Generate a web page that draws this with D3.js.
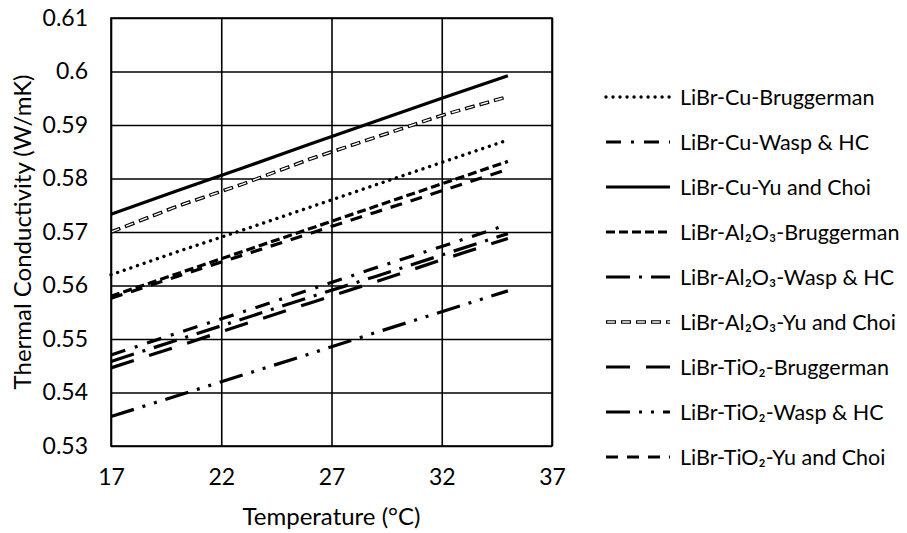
<!DOCTYPE html>
<html><head><meta charset="utf-8">
<script src="https://cdn.jsdelivr.net/npm/d3@7"></script>
<style>
html,body{margin:0;padding:0;background:#fff;}
svg text{font-family:Lato,"Open Sans",sans-serif;fill:#000;}
</style></head>
<body><svg id="c" width="907" height="533"></svg>
<script>
const temps = [17, 20, 23, 26, 29, 32, 35];
const cuBrug   = [0.5620, 0.5663, 0.5704, 0.5746, 0.5788, 0.5830, 0.5872];
const cuWasp   = [0.5470, 0.5511, 0.5551, 0.5592, 0.5633, 0.5673, 0.5714];
const cuYu     = [0.5733, 0.5777, 0.5820, 0.5864, 0.5907, 0.5950, 0.5992];
const alBrug   = [0.5580, 0.5622, 0.5664, 0.5706, 0.5748, 0.5790, 0.5832];
const alWasp   = [0.5458, 0.5498, 0.5538, 0.5578, 0.5617, 0.5657, 0.5697];
const alYu     = [0.5700, 0.5748, 0.5790, 0.5836, 0.5877, 0.5918, 0.5953];
const tiBrug   = [0.5446, 0.5486, 0.5527, 0.5567, 0.5607, 0.5648, 0.5688];
const tiWasp   = [0.5355, 0.5394, 0.5433, 0.5472, 0.5512, 0.5551, 0.5590];
const tiYu     = [0.5576, 0.5617, 0.5657, 0.5697, 0.5737, 0.5777, 0.5817];
const seriesNames = ["LiBr-Cu-Bruggerman","LiBr-Cu-Wasp & HC","LiBr-Cu-Yu and Choi",
  "LiBr-Al₂O₃-Bruggerman","LiBr-Al₂O₃-Wasp & HC","LiBr-Al₂O₃-Yu and Choi",
  "LiBr-TiO₂-Bruggerman","LiBr-TiO₂-Wasp & HC","LiBr-TiO₂-Yu and Choi"];
const seriesValues = [cuBrug, cuWasp, cuYu, alBrug, alWasp, alYu, tiBrug, tiWasp, tiYu];
const xTicks = [17, 22, 27, 32, 37];
const yTicks = [0.53, 0.54, 0.55, 0.56, 0.57, 0.58, 0.59, 0.6, 0.61];

const styles = [
  {dash:"0.01 7", cap:"round"},
  {dash:"15 10 3 10"},
  {dash:null},
  {dash:"9 4"},
  {dash:"24 9 3 9"},
  {hollow:true},
  {dash:"24 16"},
  {dash:"24 9 3 9 3 9"},
  {dash:"12 9"}
];

const svg = d3.select("#c");
const L=111, R=552, T=18, B=446;
const x = d3.scaleLinear().domain([17,37]).range([L,R]);
const y = d3.scaleLinear().domain([0.53,0.61]).range([B,T]);

const gx = svg.append("g").attr("transform",`translate(0,${B})`)
  .call(d3.axisBottom(x).tickValues(xTicks).tickSize(-(B-T)).tickPadding(22).tickFormat(d3.format("d")));
const gy = svg.append("g").attr("transform",`translate(${L},0)`)
  .call(d3.axisLeft(y).tickValues(yTicks).tickSize(-(R-L)).tickPadding(23).tickFormat(d3.format("~g")));
[gx,gy].forEach(g=>{
  g.select(".domain").remove();
  g.selectAll(".tick line").attr("stroke","#000").attr("stroke-width",1.6);
  g.selectAll(".tick text").attr("font-size",23).attr("font-family","Lato");
});
gy.selectAll(".tick text").attr("x",-23);
gx.selectAll(".tick text").attr("y",23);
svg.append("rect").attr("x",L).attr("y",T).attr("width",R-L).attr("height",B-T)
  .attr("fill","none").attr("stroke","#000").attr("stroke-width",1.6);

const line = d3.line().x(d=>x(d[0])).y(d=>y(d[1]));
function drawLine(g, pathD, st){
  if(st.hollow){
    g.append("path").attr("d",pathD).attr("fill","none").attr("stroke","#000")
      .attr("stroke-width",3.6).attr("stroke-dasharray","10 5");
    g.append("path").attr("d",pathD).attr("fill","none").attr("stroke","#fff")
      .attr("stroke-width",1.4).attr("stroke-dasharray","7.6 7.4").attr("stroke-dashoffset",13.8);
  } else {
    const p = g.append("path").attr("d",pathD).attr("fill","none").attr("stroke","#000")
      .attr("stroke-width", st.cap==="round"?3.4:3.2)
      .attr("stroke-linecap", st.cap||"butt");
    if(st.dash) p.attr("stroke-dasharray",st.dash);
  }
}
const plot = svg.append("g");
seriesValues.forEach((vals,i)=>{
  const pts = temps.map((t,j)=>[t,vals[j]]);
  drawLine(plot, line(pts), styles[i]);
});

const lg = svg.append("g");
seriesNames.forEach((name,i)=>{
  const yy = 97 + i*45;
  drawLine(lg, `M606,${yy}H670`, styles[i]);
  lg.append("text").attr("x",680).attr("y",yy).attr("dy","0.35em")
    .attr("font-size",21.5).text(name);
});

svg.append("text").attr("x",(L+R)/2).attr("y",525).attr("text-anchor","middle")
  .attr("font-size",24).text("Temperature (°C)");
svg.append("text").attr("transform",`translate(31,${(T+B)/2}) rotate(-90)`)
  .attr("text-anchor","middle").attr("font-size",24).text("Thermal Conductivity (W/mK)");
</script></body></html>
